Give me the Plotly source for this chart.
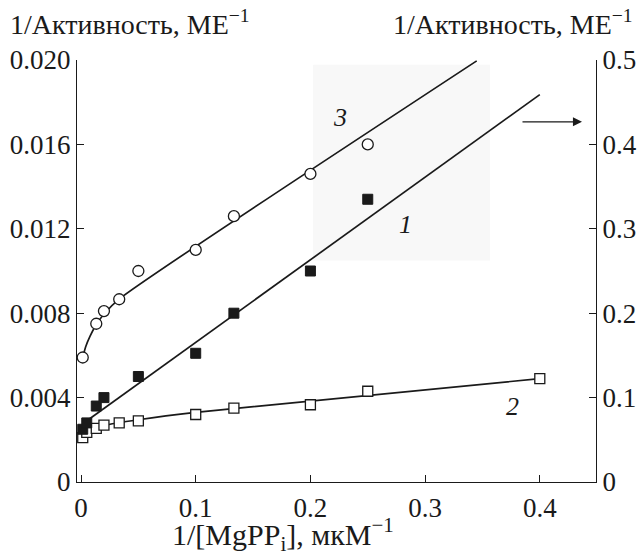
import plotly.graph_objects as go

# ---- data (left axis units, 1/activity, ME^-1) ----
# curve 3: open circles (left axis)
x3 = [0.0015, 0.0133, 0.02, 0.0333, 0.05, 0.1, 0.1333, 0.2, 0.25]
y3 = [0.0059, 0.0075, 0.0081, 0.00866, 0.0100, 0.0110, 0.0126, 0.0146, 0.0160]
fit3_x = [0.0015, 0.004, 0.0078, 0.0137, 0.0207, 0.034, 0.345]
fit3_y = [0.0059, 0.0064, 0.0069, 0.0075, 0.0080, 0.0087, 0.01996]

# curve 1: filled squares (right axis, arrow)
x1 = [0.0015, 0.005, 0.0133, 0.02, 0.05, 0.1, 0.1333, 0.2, 0.25]
y1 = [0.0625, 0.070, 0.090, 0.100, 0.125, 0.1525, 0.200, 0.250, 0.335]
fit1_x = [0.003, 0.4]
fit1_y = [0.0705, 0.459]

# curve 2: open squares (left axis)
x2 = [0.0015, 0.005, 0.0133, 0.02, 0.0333, 0.05, 0.1, 0.1333, 0.2, 0.25, 0.4]
y2 = [0.0021, 0.00235, 0.00254, 0.0027, 0.0028, 0.0029, 0.0032, 0.0035, 0.00366, 0.0043, 0.0049]
fit2_x = [0.0015, 0.006, 0.02, 0.05, 0.1, 0.4]
fit2_y = [0.00222, 0.00245, 0.00268, 0.00295, 0.0033, 0.0049]

x_ticks = [0, 0.1, 0.2, 0.3, 0.4]
x_ticktext = ["0", "0.1", "0.2", "0.3", "0.4"]
yl_ticks = [0, 0.004, 0.008, 0.012, 0.016, 0.020]
yl_ticktext = ["0", "0.004", "0.008", "0.012", "0.016", "0.020"]
yr_ticks = [0, 0.1, 0.2, 0.3, 0.4, 0.5]
yr_ticktext = ["0", "0.1", "0.2", "0.3", "0.4", "0.5"]

FONT = "Liberation Serif"
INK = "#1a1a1a"
FS = 27

fig = go.Figure()

# faint scan shading
fig.add_shape(type="rect", xref="x", yref="y", x0=0.2023, x1=0.3566, y0=0.0105, y1=0.01977,
              fillcolor="#f8f8f8", line=dict(width=0), layer="below")

line_style = dict(color=INK, width=1.7)
fig.add_trace(go.Scatter(x=fit3_x, y=fit3_y, mode="lines", line=dict(shape="spline", smoothing=0.6, **line_style),
                         showlegend=False, hoverinfo="skip"))
fig.add_trace(go.Scatter(x=fit2_x, y=fit2_y, mode="lines", line=dict(shape="spline", smoothing=0.6, **line_style),
                         showlegend=False, hoverinfo="skip"))
fig.add_trace(go.Scatter(x=fit1_x, y=fit1_y, mode="lines", line=line_style, yaxis="y2",
                         showlegend=False, hoverinfo="skip"))

fig.add_trace(go.Scatter(x=x3, y=y3, mode="markers", name="3",
                         marker=dict(symbol="circle", size=11, color="white", line=dict(color=INK, width=1.3)),
                         showlegend=False))
fig.add_trace(go.Scatter(x=x2, y=y2, mode="markers", name="2",
                         marker=dict(symbol="square", size=10, color="white", line=dict(color=INK, width=1.3)),
                         showlegend=False))
fig.add_trace(go.Scatter(x=x1, y=y1, mode="markers", name="1", yaxis="y2",
                         marker=dict(symbol="square", size=10, color=INK, line=dict(color=INK, width=1)),
                         showlegend=False))

axis_common = dict(showgrid=False, zeroline=False, showline=True, linecolor=INK, linewidth=1.3,
                   ticks="inside", ticklen=7, tickwidth=1.3, tickcolor=INK, automargin=False,
                   tickfont=dict(family=FONT, size=FS, color=INK))

fig.update_layout(
    width=638, height=552,
    margin=dict(l=77, r=42, t=60, b=70),
    paper_bgcolor="white", plot_bgcolor="white",
    font=dict(family=FONT, size=FS, color=INK),
    xaxis=dict(range=[-0.0035, 0.449], tickvals=x_ticks, ticktext=x_ticktext, ticklabelstandoff=1,
               **axis_common),
    yaxis=dict(range=[0, 0.02], tickvals=yl_ticks, ticktext=yl_ticktext, **axis_common),
    yaxis2=dict(range=[0, 0.5], tickvals=yr_ticks, ticktext=yr_ticktext, overlaying="y", side="right",
                **axis_common),
)

ann_font = dict(family=FONT, size=28, color=INK)
fig.add_annotation(xref="paper", yref="paper", x=-0.133, y=1.09, xanchor="left", yanchor="middle",
                   text="1/Активность, МЕ<sup>−1</sup>", showarrow=False, font=ann_font)
fig.add_annotation(xref="paper", yref="paper", x=1.075, y=1.09, xanchor="right", yanchor="middle",
                   text="1/Активность, МЕ<sup>−1</sup>", showarrow=False, font=ann_font)
fig.add_annotation(xref="paper", yref="paper", x=0.397, y=-0.125, xanchor="center", yanchor="middle",
                   text="1/[MgPP<sub>i</sub>], мкМ<sup>−1</sup>", showarrow=False,
                   font=dict(family=FONT, size=30, color=INK))

lab_font = dict(family=FONT, size=26, color=INK)
fig.add_annotation(x=0.2258, y=0.01726, text="<i>3</i>", showarrow=False, font=lab_font)
fig.add_annotation(x=0.2825, y=0.0122, text="<i>1</i>", showarrow=False, font=lab_font)
fig.add_annotation(x=0.3766, y=0.0036, text="<i>2</i>", showarrow=False, font=lab_font)

# arrow pointing to the right axis (curve 1)
fig.add_annotation(x=0.4368, y=0.01707, ax=0.3836, ay=0.01707, axref="x", ayref="y",
                   xref="x", yref="y", text="", showarrow=True, arrowhead=2, arrowsize=1.4,
                   arrowwidth=1.3, arrowcolor=INK)

fig.write_html("out.html", config={"displayModeBar": False},
               post_script="document.body.style.margin='0px';")
